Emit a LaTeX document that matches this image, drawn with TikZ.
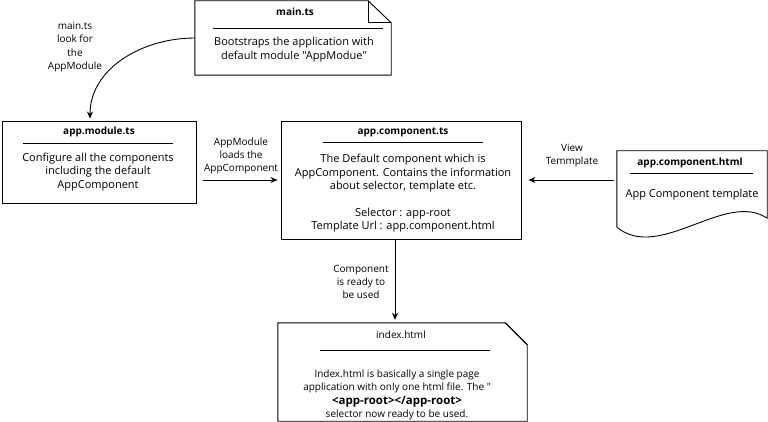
\documentclass[tikz,border=0pt]{standalone}
\usepackage{fontspec}
\setmainfont{Open Sans}[Ligatures=TeXOff]
\usetikzlibrary{arrows.meta,positioning}
\tikzset{
  boxnode/.style = {draw=black, line width=0.9pt, inner sep=0pt},
  shapenode/.style = {inner sep=0pt},
  titlenode/.style = {font=\bfseries\fontsize{10}{12}\selectfont, inner sep=0pt},
  textnode/.style = {align=center, font=\fontsize{10}{13.4}\selectfont, inner sep=0pt},
  bodynode/.style = {align=center, font=\fontsize{11}{13.4}\selectfont, inner sep=0pt},
  ruleline/.style = {line width=0.9pt},
  flowarrow/.style = {line width=0.9pt, -{Stealth[length=7pt,width=6pt]}}
}

\begin{document}
\begin{tikzpicture}[x=1pt, y=-1pt]
        \useasboundingbox (0,0) rectangle (768,422);

        \node [shapenode, minimum width=196pt, minimum height=74pt] (main) at (293,38) {};
        \draw [ruleline] (main.north west) -- ([xshift=-23pt]main.north east)
            -- ([yshift=-22pt]main.north east) -- (main.south east) -- (main.south west) -- cycle;
        \draw [ruleline] ([xshift=-23pt]main.north east) -- ([xshift=-23pt,yshift=-22pt]main.north east)
            -- ([yshift=-22pt]main.north east);
        \node [titlenode] (maintitle) at (295,12) {main.ts};
        \draw [ruleline] (213,28) -- (383,28);
        \node [bodynode] (maintext) at (294,49.5) {Bootstraps the application with\\default module "AppModue"};

        \node [boxnode, minimum width=194pt, minimum height=82pt] (mod) at (99,162) {};
        \node [titlenode] (modtitle) at (99,132) {app.module.ts};
        \draw [ruleline] (23,143) -- (173,143);
        \node [bodynode] (modtext) at (98,172) {Configure all the components\\including the default\\AppComponent};

        \node [boxnode, minimum width=240pt, minimum height=118pt] (comp) at (401,180) {};
        \node [titlenode] (comptitle) at (403,132) {app.component.ts};
        \draw [ruleline] (323,142) -- (483,142);
        \node [bodynode] (comptext) at (403,193.5) {The Default component which is\\AppComponent. Contains the information\\about selector, template etc.\\[13.4pt]
            Selector : app-root\\Template Url : app.component.html};

        \node [shapenode, minimum width=150pt, minimum height=76pt] (html) at (692,189) {};
        \draw [ruleline] (html.south west) -- (html.north west) -- (html.north east) -- ([yshift=9pt]html.south east)
            .. controls ([xshift=-42pt,yshift=37pt]html.south east) and ([xshift=43pt,yshift=-35pt]html.south west) .. (html.south west);
        \node [titlenode] (htmltitle) at (690,163) {app.component.html};
        \draw [ruleline] (630,173) -- (753,173);
        \node [bodynode] (htmltext) at (692,195) {App Component template};

        \node [shapenode, minimum width=249pt, minimum height=98pt] (index) at (402.5,372) {};
        \draw [ruleline] (index.north west) -- ([xshift=-22pt]index.north east)
            -- ([yshift=-22pt]index.north east) -- (index.south east) -- (index.south west) -- cycle;
        \draw [ruleline] ([xshift=-22pt]index.north east) -- ([yshift=-22pt]index.north east);
        \node [textnode] (indextitle) at (401,335) {index.html};
        \draw [ruleline] (320,350) -- (490,350);
        \node [textnode] (indextext) at (397,395) {Index.html is basically a single page\\application with only one html file. The "\\
            {\bfseries\fontsize{11.5}{14}\selectfont <app-root></app-root>}\\selector now ready to be used.};

        \node [textnode] (lblmain) at (75,47) {main.ts\\look for\\the\\AppModule};
        \node [textnode] (lblload) at (241,156) {AppModule\\loads the\\AppComponent};
        \node [textnode] (lblview) at (572,155.5) {View\\Temmplate};
        \node [textnode] (lblready) at (361,282) {Component\\is ready to\\be used};

        \draw [flowarrow, shorten >=2pt] (main.west) to[out=180, in=90] ([xshift=-9pt]mod.north);
        \draw [flowarrow, shorten <=7pt, shorten >=3pt] (mod.east |- comp.west) -- (comp.west);
        \draw [flowarrow, shorten <=3pt, shorten >=7pt] (html.west |- comp.east) -- (comp.east);
        \draw [flowarrow, shorten >=3pt] ([xshift=-6pt]comp.south) -- ([xshift=-6pt]comp.south |- index.north);
\end{tikzpicture}
\end{document}
